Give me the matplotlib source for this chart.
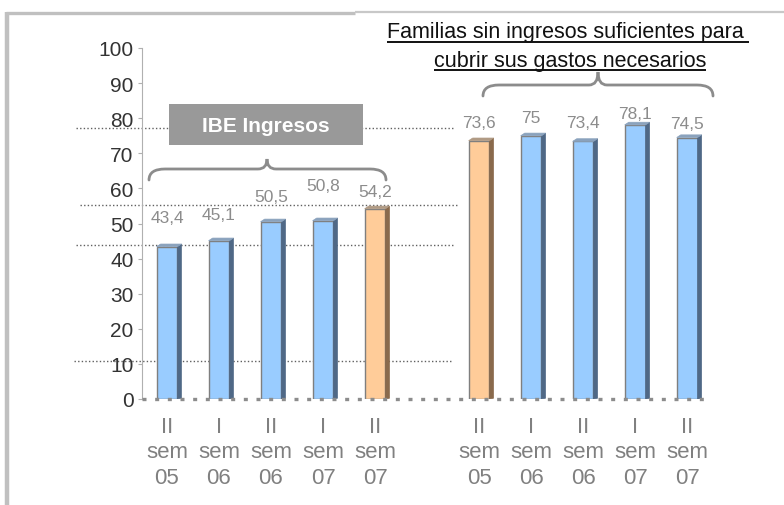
import matplotlib
matplotlib.use("Agg")
import matplotlib.pyplot as plt
from matplotlib.patches import Polygon, PathPatch, Rectangle
from matplotlib.path import Path

plt.rcParams['font.family'] = ['Liberation Sans', 'DejaVu Sans']

# ---------------- data ----------------
semesters = ["II", "I", "II", "I", "II"]
years = ["05", "06", "06", "07", "07"]
ibe_values = [43.4, 45.1, 50.5, 50.8, 54.2]
fam_values = [73.6, 75.0, 73.4, 78.1, 74.5]
ibe_text = ["43,4", "45,1", "50,5", "50,8", "54,2"]
fam_text = ["73,6", "75", "73,4", "78,1", "74,5"]
yticks = [0, 10, 20, 30, 40, 50, 60, 70, 80, 90, 100]
box_label = "IBE Ingresos"
title_lines = ["Familias sin ingresos suficientes para ", "cubrir sus gastos necesarios"]
highlight = [False, False, False, False, True, True, False, False, False, False]
# vertical offset of each value label above its bar (layout)
label_offsets = [8.4, 7.6, 7.3, 9.9, 4.8, 5.3, 5.1, 5.5, 3.1, 4.1]

W, H = 784, 506
fig = plt.figure(figsize=(W / 100, H / 100), dpi=100)
fig.patch.set_facecolor("white")

# overlay axes (background) in pixel coordinates for decorations
ov = fig.add_axes([0, 0, 1, 1], zorder=0)
ov.set_xlim(0, W)
ov.set_ylim(H, 0)
ov.axis("off")

# axes in pixel geometry
ax_l, ax_r, ax_b, ax_t = 142, 710, 400, 49
ax = fig.add_axes([ax_l / W, (H - ax_b) / H, (ax_r - ax_l) / W, (ax_b - ax_t) / H], zorder=1)
ax.patch.set_visible(False)
ax.set_xlim(-0.48, 10.44)
ax.set_ylim(0, 100)

cats = [f"{s}\nsem\n{y}" for s, y in zip(semesters, years)]
xpos = [i for i in range(11) if i != 5]
vals = ibe_values + fam_values
txts = ibe_text + fam_text
xlabels = cats + cats

bw = 0.40
dx = 0.078
dy = 0.75
blue_front, blue_side, blue_top = "#99ccff", "#4f6886", "#8aa2bd"
org_front, org_side, org_top = "#ffcc99", "#8a6a4c", "#b09a84"
edge = "#7f7f7f"

for i, (x, v) in enumerate(zip(xpos, vals)):
    hl = highlight[i]
    front = org_front if hl else blue_front
    side = org_side if hl else blue_side
    top = org_top if hl else blue_top
    ax.bar(x, v, width=bw, color=front, edgecolor=edge, linewidth=1.0, zorder=3)
    x1 = x + bw / 2
    ax.add_patch(Polygon([(x1, 0), (x1 + dx, dy * 0.3), (x1 + dx, v + dy), (x1, v)],
                         closed=True, facecolor=side, edgecolor=side, linewidth=0.5, zorder=3))
    ax.add_patch(Polygon([(x - bw / 2, v), (x - bw / 2 + dx, v + dy), (x1 + dx, v + dy), (x1, v)],
                         closed=True, facecolor=top, edgecolor=top, linewidth=0.5, zorder=3))
    ax.text(x, v + label_offsets[i], txts[i], ha="center", va="center", fontsize=12.5,
            color="#8c8c8c", zorder=4)

# axes styling
for s in ["top", "right", "bottom"]:
    ax.spines[s].set_visible(False)
ax.spines["left"].set_color("#b0b0b0")
ax.spines["left"].set_linewidth(0.8)
ax.set_yticks(yticks)
ax.set_yticklabels([str(t) for t in yticks], fontsize=15, color="#333333")
ax.tick_params(axis="y", direction="out", length=3, width=0.8, color="#b0b0b0", pad=3)
ax.set_xticks(xpos)
ax.set_xticklabels(xlabels, fontsize=16, color="#808080", linespacing=1.3)
ax.tick_params(axis="x", length=0, pad=12)

# dotted baseline
ax.plot([-0.48, 10.44], [0, 0], color="#8c8c8c", lw=2.4,
        linestyle=(0, (1.2, 2.6)), solid_capstyle="butt", dash_capstyle="butt",
        clip_on=False, zorder=5)

ov2 = fig.add_axes([0, 0, 1, 1], zorder=10)
ov2.set_xlim(0, W)
ov2.set_ylim(H, 0)
ov2.axis("off")
ov2.patch.set_alpha(0)

# frame
ov.plot([7.5, 7.5], [13, H], color="#c0c0c0", lw=3.2, solid_capstyle="butt")
ov.plot([6, 355], [13.5, 13.5], color="#c0c0c0", lw=2.4, solid_capstyle="butt")
ov.plot([355, W], [12.5, 12.5], color="#c8c8c8", lw=1.6, solid_capstyle="butt")

# guide dotted lines
for (x0, x1, yy) in [(76, 453, 129), (80, 458, 206), (76, 454, 246), (74, 452, 362)]:
    ov.plot([x0, x1], [yy, yy], color="#606060", lw=1.0, linestyle=(0, (1, 1.6)))

# IBE box
ov2.add_patch(Rectangle((169, 105), 194, 41, facecolor="#999999", edgecolor="none"))
ov2.text(266, 126, box_label, ha="center", va="center", fontsize=15,
         fontweight="bold", color="white")


def brace(axx, xl, xr, xc, y_end, y_arm, y_tip, r=16, rc=9):
    verts = [(xl, y_end), (xl, y_arm), (xl + r, y_arm),
             (xc - rc, y_arm),
             (xc, y_arm), (xc, y_tip),
             (xc, y_arm), (xc + rc, y_arm),
             (xr - r, y_arm),
             (xr, y_arm), (xr, y_end)]
    codes = [Path.MOVETO, Path.CURVE3, Path.CURVE3, Path.LINETO,
             Path.CURVE3, Path.CURVE3, Path.CURVE3, Path.CURVE3,
             Path.LINETO, Path.CURVE3, Path.CURVE3]
    axx.add_patch(PathPatch(Path(verts, codes), facecolor="none",
                            edgecolor="#8c8c8c", lw=2.0, capstyle="round"))


brace(ov2, 149, 386, 267, 181, 170, 160)
brace(ov2, 483, 713, 598, 97, 86, 73)

# title with underline
t1 = ov2.text(568, 38, title_lines[0], ha="center", va="baseline", fontsize=15.5, color="#111111")
t2 = ov2.text(570, 67, title_lines[1], ha="center", va="baseline", fontsize=15.5, color="#111111")
fig.canvas.draw()
r = fig.canvas.get_renderer()
inv = ov2.transData.inverted()
for t, yy in [(t1, 42.5), (t2, 71)]:
    bb = t.get_window_extent(r)
    xa = inv.transform((bb.x0, 0))[0]
    xb = inv.transform((bb.x1, 0))[0]
    ov2.plot([xa, xb], [yy, yy], color="#111111", lw=1.4, solid_capstyle="butt")

fig.savefig("out.png", dpi=100, facecolor="white")
